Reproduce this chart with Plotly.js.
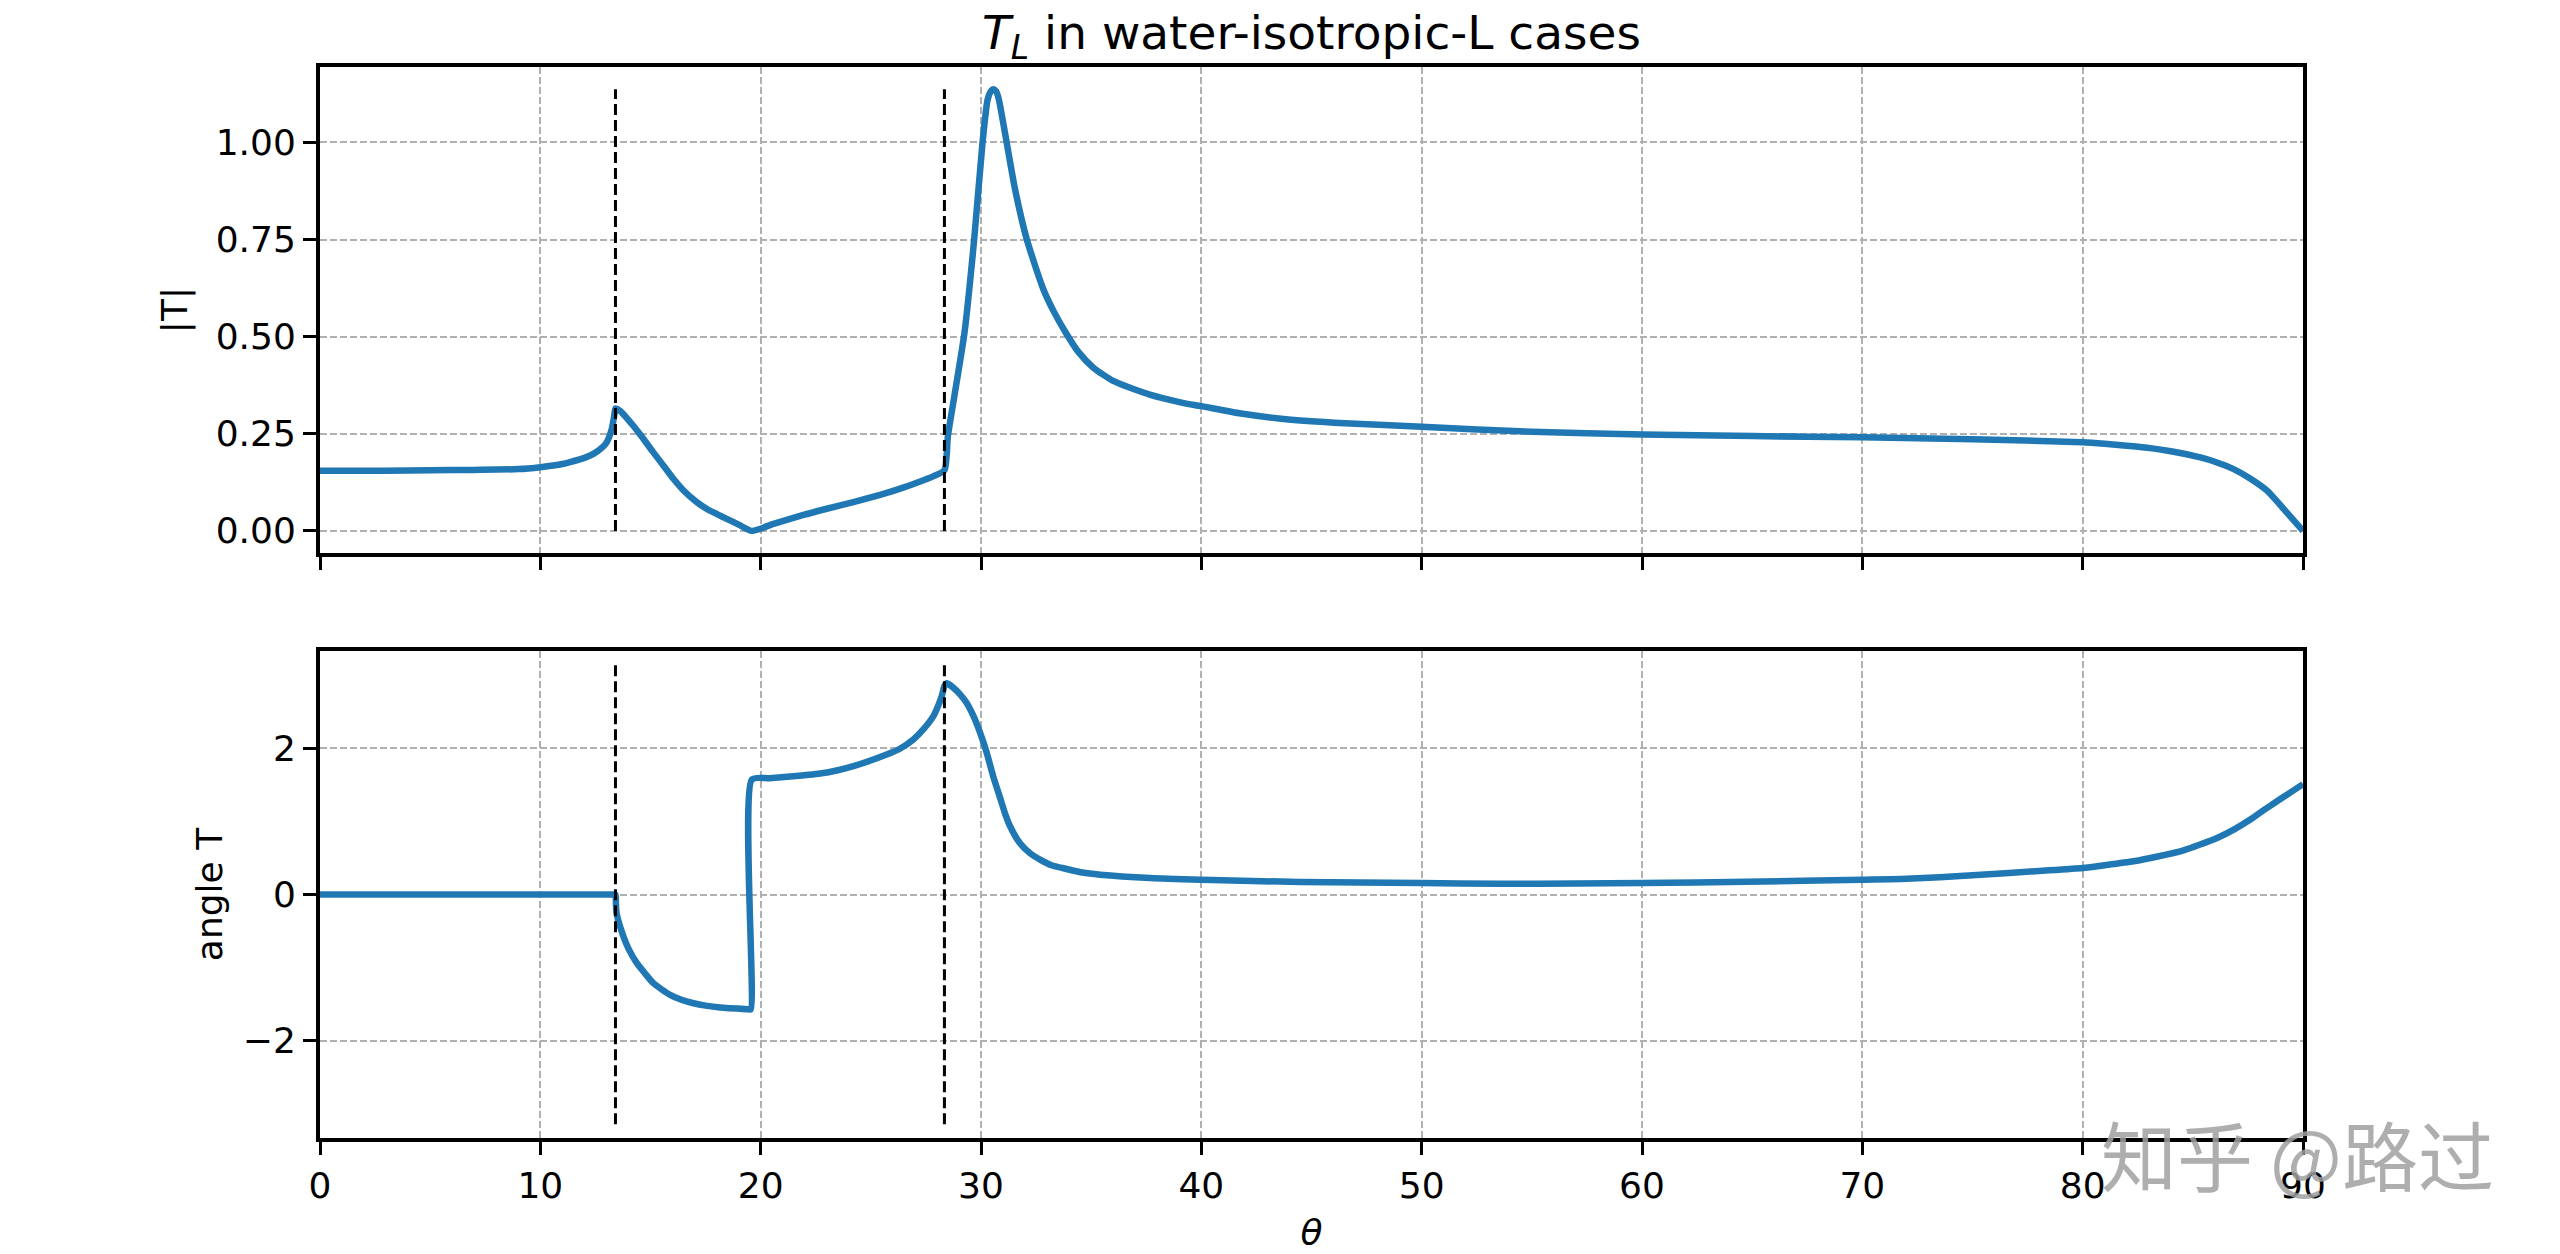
<!DOCTYPE html>
<html>
<head>
<meta charset="utf-8">
<script src="https://cdn.plot.ly/plotly-3.0.1.min.js"></script>
<style>html,body{margin:0;padding:0;background:#fff;}#chart{width:2560px;height:1254px;}</style>
</head>
<body>
<div id="chart"></div>
<script>
// |T| curve (theta in degrees)
const thetaAbs = [0, 3, 5, 7, 9, 10, 11, 11.35, 12, 12.41, 12.8, 13.01, 13.24, 13.35, 13.41, 13.62, 14.22, 14.6, 15.13, 15.6, 16.04, 16.5, 17.1, 17.6, 18.46, 19.0, 19.6, 20.58, 21.94, 23.0, 24.21, 25.72, 26.5, 27.24, 27.85, 28.34, 28.5, 28.8, 29.25, 29.69, 30.07, 30.3, 30.45, 30.56, 30.68, 30.8, 31.09, 31.55, 32.08, 32.83, 33.3, 33.89, 34.4, 35.1, 36.0, 36.92, 37.7, 38.43, 39.2, 40, 41.8, 43.73, 46.5, 50, 55, 60, 65, 70, 75, 80, 81, 82, 83.07, 84, 85.34, 86, 86.85, 87.6, 88.37, 89.12, 90];
const absT = [0.155, 0.155, 0.156, 0.157, 0.159, 0.164, 0.172, 0.177, 0.188, 0.198, 0.214, 0.228, 0.262, 0.295, 0.315, 0.309, 0.2705, 0.243, 0.202, 0.167, 0.134, 0.104, 0.074, 0.055, 0.031, 0.016, 0.0, 0.018, 0.041, 0.057, 0.074, 0.0976, 0.112, 0.127, 0.141, 0.156, 0.245, 0.35, 0.51, 0.75, 1.0, 1.11, 1.132, 1.137, 1.132, 1.113, 1.024, 0.878, 0.75, 0.622, 0.565, 0.506, 0.462, 0.42, 0.386, 0.365, 0.35, 0.339, 0.329, 0.321, 0.302, 0.288, 0.277, 0.268, 0.255, 0.248, 0.244, 0.2407, 0.236, 0.228, 0.224, 0.219, 0.213, 0.205, 0.189, 0.178, 0.159, 0.135, 0.1035, 0.0565, 0.0];

// angle T curve (radians)
const thetaAng = [0, 5, 10, 13.0, 13.3, 13.41, 13.43, 13.46, 13.77, 14.0, 14.38, 14.7, 15.13, 15.89, 16.4, 16.95, 17.5, 18.16, 19.41, 19.55, 19.6, 20.4, 21.19, 22.7, 23.5, 24.21, 25.72, 26.3, 26.93, 27.4, 27.84, 28.0, 28.22, 28.34, 28.45, 28.7, 29.05, 29.35, 29.66, 29.95, 30.26, 30.55, 30.87, 31.1, 31.32, 31.77, 32.2, 32.68, 33.2, 33.89, 34.6, 35.41, 37.68, 40, 44.48, 50, 53.56, 57, 60, 64.76, 70, 72, 75, 78, 80, 81, 82.31, 83.4, 84.58, 85.3, 86.1, 86.9, 87.61, 88.2, 88.82, 89.4, 90];
const angleT = [0, 0, 0, 0, 0, 0, -0.12, -0.254, -0.573, -0.74, -0.939, -1.06, -1.213, -1.373, -1.44, -1.487, -1.52, -1.546, -1.569, -1.571, 1.573, 1.59, 1.609, 1.655, 1.70, 1.755, 1.915, 1.99, 2.121, 2.265, 2.44, 2.54, 2.714, 2.85, 2.888, 2.84, 2.737, 2.62, 2.44, 2.22, 1.938, 1.62, 1.32, 1.1, 0.933, 0.7, 0.57, 0.477, 0.40, 0.349, 0.30, 0.271, 0.226, 0.203, 0.171, 0.157, 0.148, 0.15, 0.157, 0.175, 0.203, 0.215, 0.262, 0.322, 0.363, 0.40, 0.454, 0.52, 0.605, 0.68, 0.774, 0.895, 1.025, 1.15, 1.275, 1.39, 1.51];

// critical angles (degrees)
const criticalAngles = [13.41, 28.34];

// ticks
const xTicks = [0, 10, 20, 30, 40, 50, 60, 70, 80, 90];
const yTopTicks = [0, 0.25, 0.5, 0.75, 1.0];
const yTopLabels = ['0.00', '0.25', '0.50', '0.75', '1.00'];
const yBotTicks = [-2, 0, 2];
const yBotLabels = ['\u22122', '0', '2'];

const blue = '#1f77b4';
const maxAbs = Math.max(...absT);

const traces = [];
traces.push({x: thetaAbs, y: absT, xaxis: 'x', yaxis: 'y', mode: 'lines', line: {color: blue, width: 6.5, shape: 'spline', smoothing: 0.6}, hoverinfo: 'skip'});
traces.push({x: thetaAng, y: angleT, xaxis: 'x2', yaxis: 'y2', mode: 'lines', line: {color: blue, width: 6.5, shape: 'spline', smoothing: 0.6}, hoverinfo: 'skip'});
criticalAngles.forEach(a => {
  traces.push({x: [a, a], y: [0, maxAbs], xaxis: 'x', yaxis: 'y', mode: 'lines', line: {color: 'black', width: 3, dash: '11px,5px'}, hoverinfo: 'skip'});
  traces.push({x: [a, a], y: [-Math.PI, Math.PI], xaxis: 'x2', yaxis: 'y2', mode: 'lines', line: {color: 'black', width: 3, dash: '11px,5px'}, hoverinfo: 'skip'});
});

const gridStyle = {showgrid: true, gridcolor: '#b0b0b0', gridwidth: 2, griddash: '7px,3px', zeroline: false};
const axisLine = {showline: true, linecolor: 'black', linewidth: 4, mirror: true, ticks: 'outside', ticklen: 13, tickwidth: 3, tickcolor: 'black'};

const layout = {
  width: 2560, height: 1254,
  margin: {l: 320, r: 257, t: 67, b: 116, pad: 0},
  paper_bgcolor: 'white', plot_bgcolor: 'white',
  showlegend: false,
  font: {family: 'DejaVu Sans', size: 36, color: 'black'},
  title: {
    text: '<i>T</i><sub><i>L</i></sub> in water-isotropic-L cases',
    font: {family: 'DejaVu Sans', size: 47, color: 'black'},
    x: 0.5, xref: 'paper', xanchor: 'center',
    y: 1 - 33 / 1254, yref: 'container', yanchor: 'middle'
  },
  xaxis: Object.assign({domain: [0, 1], anchor: 'y', range: [0, 90], tickvals: xTicks, showticklabels: false, matches: 'x2'}, gridStyle, axisLine),
  yaxis: Object.assign({domain: [0.5462, 1], anchor: 'x', range: [-0.057, 1.194], tickvals: yTopTicks, ticktext: yTopLabels,
    title: {text: '|T|', standoff: 18, font: {size: 36}}}, gridStyle, axisLine),
  xaxis2: Object.assign({domain: [0, 1], anchor: 'y2', range: [0, 90], tickvals: xTicks,
    title: {text: '<i>θ</i>', standoff: 16, font: {size: 36}}}, gridStyle, axisLine),
  yaxis2: Object.assign({domain: [0, 0.4547], anchor: 'x2', range: [-3.33, 3.33], tickvals: yBotTicks, ticktext: yBotLabels,
    title: {text: 'angle T', standoff: 10, font: {size: 36}}}, gridStyle, axisLine),
  annotations: [{
    text: '知乎 @路过', xref: 'paper', yref: 'paper', x: 0.997, y: -0.014,
    xanchor: 'center', yanchor: 'middle', showarrow: false,
    font: {family: 'Noto Sans CJK SC', size: 76, color: 'rgba(160,160,160,0.85)'}
  }]
};

Plotly.newPlot('chart', traces, layout, {displayModeBar: false, staticPlot: true});
</script>
</body>
</html>
